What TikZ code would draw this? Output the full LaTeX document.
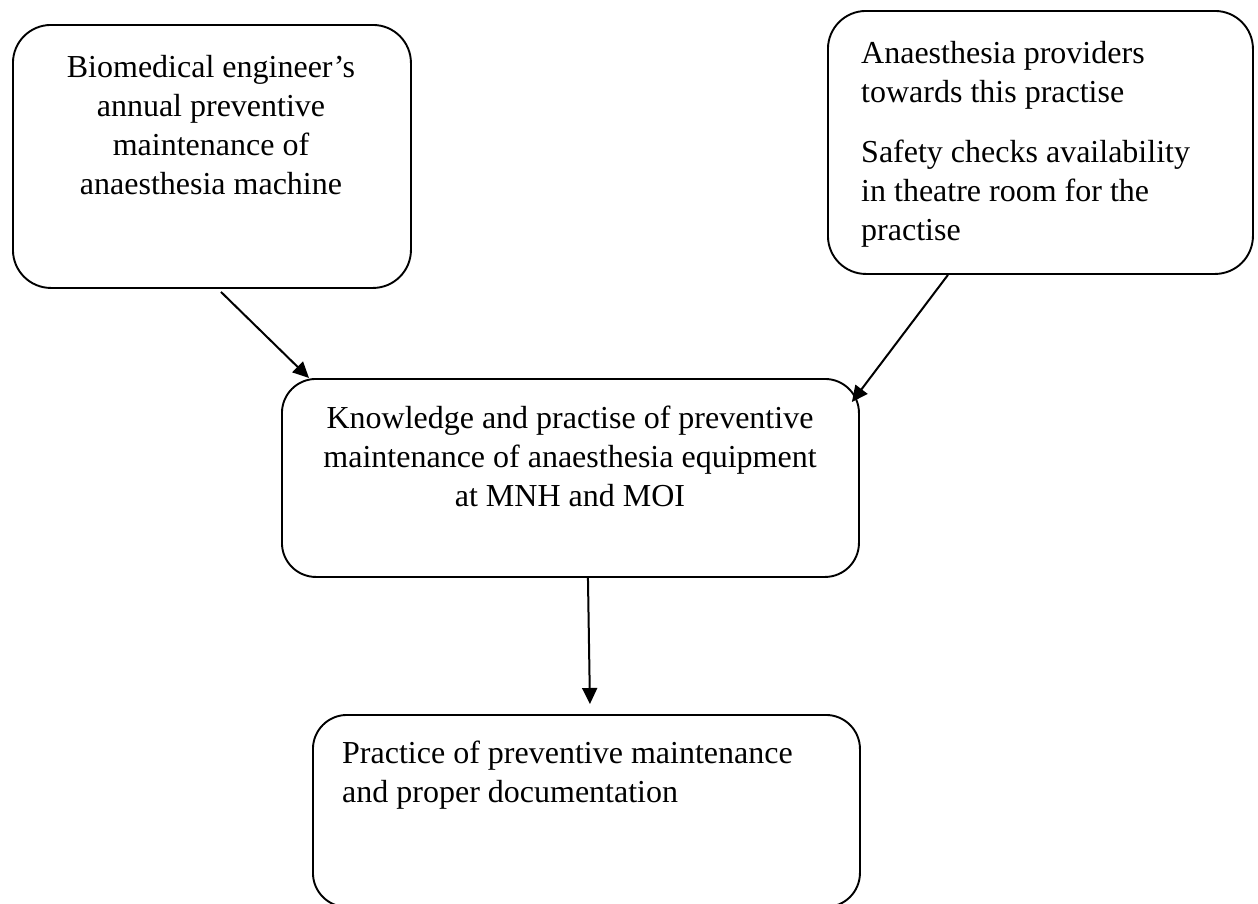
\documentclass[tikz,border=0pt]{standalone}
\usepackage{fontspec}
\setmainfont{Liberation Serif}
\usetikzlibrary{arrows.meta,calc}
\begin{document}
\begin{tikzpicture}[x=1pt,y=-1pt,
  box/.style={draw,line width=1.9pt,rounded corners=38pt,inner sep=0pt,anchor=north west},
  txt/.style={inner sep=0pt,font=\fontsize{32}{39}\selectfont},
  conn/.style={line width=2pt,-{Triangle[length=16pt,width=15pt]}}]
\useasboundingbox (0,0) rectangle (1258,903);
% boxes
\node[box,minimum width=398pt,minimum height=263pt] (A) at (12,24) {};
\node[box,minimum width=425pt,minimum height=263pt] (B) at (827,10) {};
\node[box,minimum width=577pt,minimum height=198pt,rounded corners=34pt] (C) at (281,378) {};
\node[box,minimum width=547pt,minimum height=192pt,rounded corners=34pt] (D) at (312,714) {};
% texts
\node[txt,align=center,anchor=north] (At) at (211,55) {Biomedical engineer’s\\annual preventive\\maintenance of\\anaesthesia machine};
\node[txt,align=left,anchor=north west] (Bt) at (861,41) {Anaesthesia providers\\towards this practise\\[21pt]Safety checks availability\\in theatre room for the\\practise};
\node[txt,align=center,anchor=north] (Ct) at (570,406) {Knowledge and practise of preventive\\maintenance of anaesthesia equipment\\at MNH and MOI};
\node[txt,align=left,anchor=north west] (Dt) at (342,741) {Practice of preventive maintenance\\and proper documentation};
% connectors
\draw[conn] ([xshift=9pt,yshift=-3pt]A.south) -- ([xshift=28pt]C.north west);
\draw[conn] ([xshift=-92.5pt]B.south) -- ([xshift=-8pt,yshift=-24pt]C.north east);
\draw[conn] ([xshift=17.5pt]C.south) -- ([xshift=3.5pt,yshift=10pt]D.north);
\end{tikzpicture}
\end{document}
